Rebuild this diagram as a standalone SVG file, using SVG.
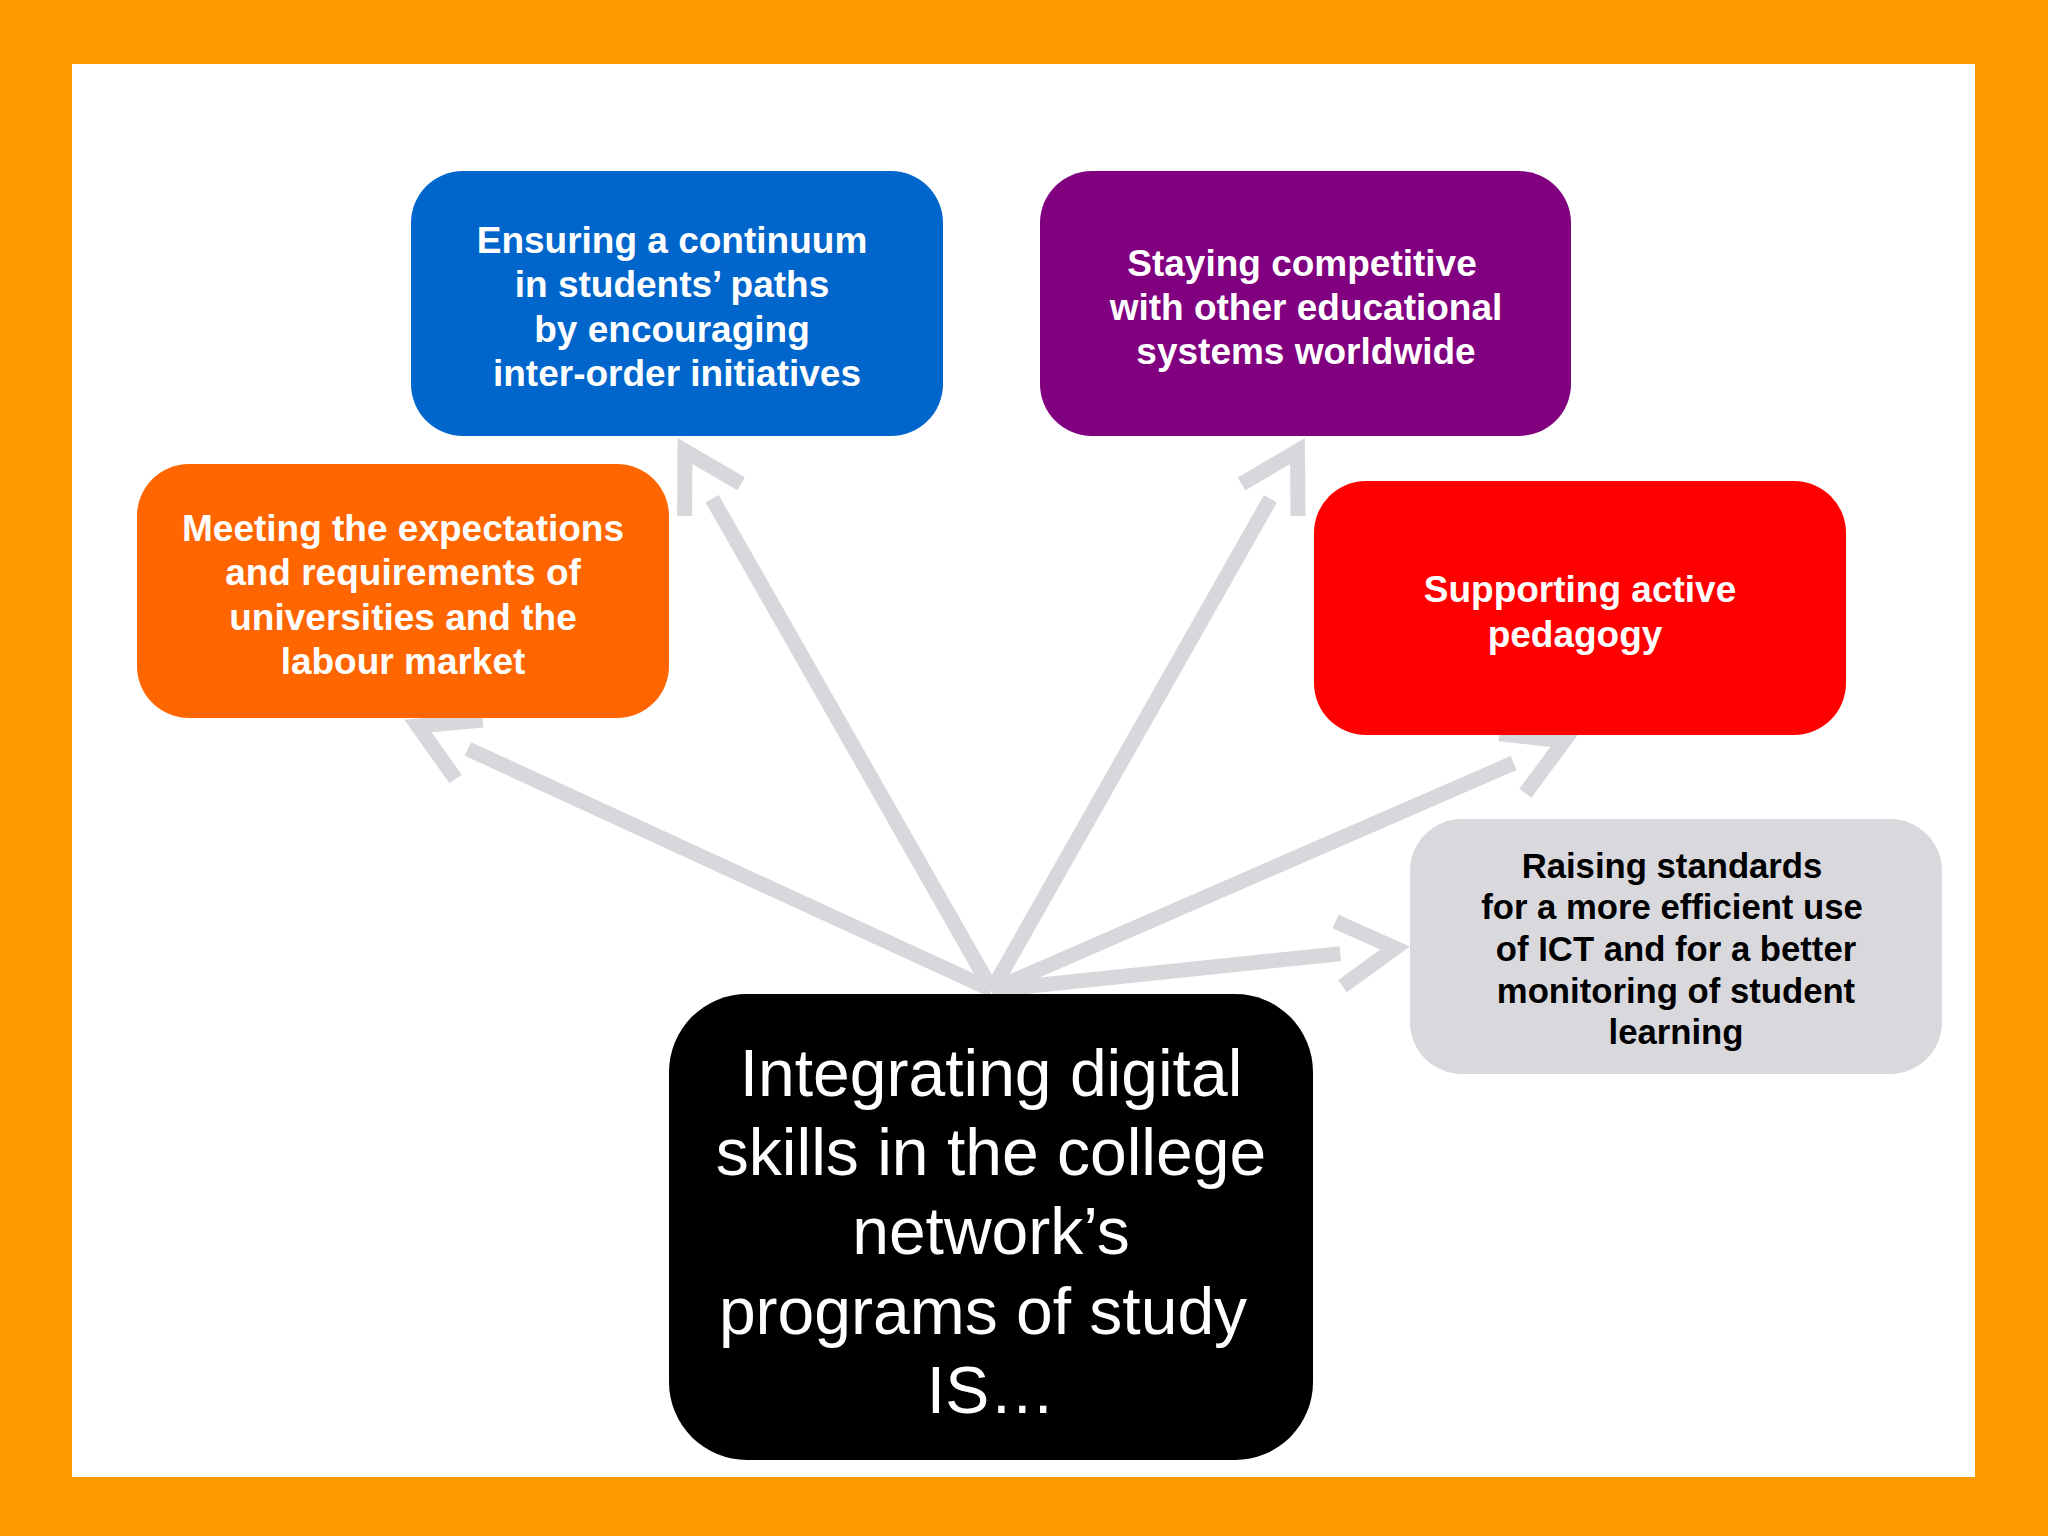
<svg xmlns="http://www.w3.org/2000/svg" width="2048" height="1536" viewBox="0 0 2048 1536">
<style>
.bg{fill:#FF9900}
.panel{fill:#FFFFFF}
.arr{fill:none;stroke:#D8D8DC;stroke-width:15;stroke-linecap:butt;stroke-linejoin:miter;stroke-miterlimit:10}
.t{font-family:"Liberation Sans",Arial,sans-serif;font-weight:bold;font-size:37px;fill:#FFFFFF;text-anchor:middle}
.tg{font-family:"Liberation Sans",Arial,sans-serif;font-weight:bold;font-size:34.7px;fill:#000000;text-anchor:middle}
.tb{font-family:"Liberation Sans",Arial,sans-serif;font-size:66px;fill:#FFFFFF;text-anchor:middle}
</style>
<rect class="bg" x="0" y="0" width="2048" height="1536"/>
<rect class="panel" x="72" y="64" width="1903" height="1413"/>
<g id="connectors">
  <line class="arr" x1="992" y1="990" x2="468" y2="749"/>
  <polyline class="arr" points="482.7,720 418,726 455.6,779"/>
  <line class="arr" x1="992" y1="990" x2="712.2" y2="498.8"/>
  <polyline class="arr" points="684.6,516 685,451 741.1,483.8"/>
  <line class="arr" x1="992" y1="990" x2="1270.4" y2="498.8"/>
  <polyline class="arr" points="1241.5,483.9 1297.5,451 1298,516"/>
  <line class="arr" x1="992" y1="990" x2="1513.6" y2="763"/>
  <polyline class="arr" points="1499.4,733.7 1564,741 1525.4,793.3"/>
  <line class="arr" x1="992" y1="990" x2="1340.3" y2="953.7"/>
  <polyline class="arr" points="1335.6,921.5 1395,948 1342.4,986.2"/>
</g>
<g id="node-continuum">
  <rect x="411" y="171" width="532" height="265" rx="52" fill="#0066CC"/>
  <text class="t" x="672" y="253">Ensuring a continuum</text>
  <text class="t" x="672" y="297">in students’ paths</text>
  <text class="t" x="672" y="342">by encouraging</text>
  <text class="t" x="677" y="386">inter-order initiatives</text>
</g>
<g id="node-competitive">
  <rect x="1040" y="171" width="531" height="265" rx="52" fill="#800080"/>
  <text class="t" x="1302" y="276">Staying competitive</text>
  <text class="t" x="1306" y="320">with other educational</text>
  <text class="t" x="1306" y="364">systems worldwide</text>
</g>
<g id="node-expectations">
  <rect x="137" y="464" width="532" height="254" rx="52" fill="#FF6600"/>
  <text class="t" x="403" y="541">Meeting the expectations</text>
  <text class="t" x="403" y="585">and requirements of</text>
  <text class="t" x="403" y="630">universities and the</text>
  <text class="t" x="403" y="674">labour market</text>
</g>
<g id="node-pedagogy">
  <rect x="1314" y="481" width="532" height="254" rx="52" fill="#FF0000"/>
  <text class="t" x="1580" y="602">Supporting active</text>
  <text class="t" x="1575" y="647">pedagogy</text>
</g>
<g id="node-standards">
  <rect x="1410" y="819" width="532" height="255" rx="52" fill="#D9D9DD"/>
  <text class="tg" x="1672" y="878">Raising standards</text>
  <text class="tg" x="1672" y="919">for a more efficient use</text>
  <text class="tg" x="1676" y="961">of ICT and for a better</text>
  <text class="tg" x="1676" y="1003">monitoring of student</text>
  <text class="tg" x="1676" y="1044">learning</text>
</g>
<g id="node-central">
  <rect x="669" y="994" width="644" height="466" rx="78" fill="#000000"/>
  <text class="tb" x="991" y="1096">Integrating digital</text>
  <text class="tb" x="991" y="1175">skills in the college</text>
  <text class="tb" x="991" y="1254">network’s</text>
  <text class="tb" x="983" y="1334">programs of study</text>
  <text class="tb" x="991" y="1413">IS…</text>
</g>
</svg>
